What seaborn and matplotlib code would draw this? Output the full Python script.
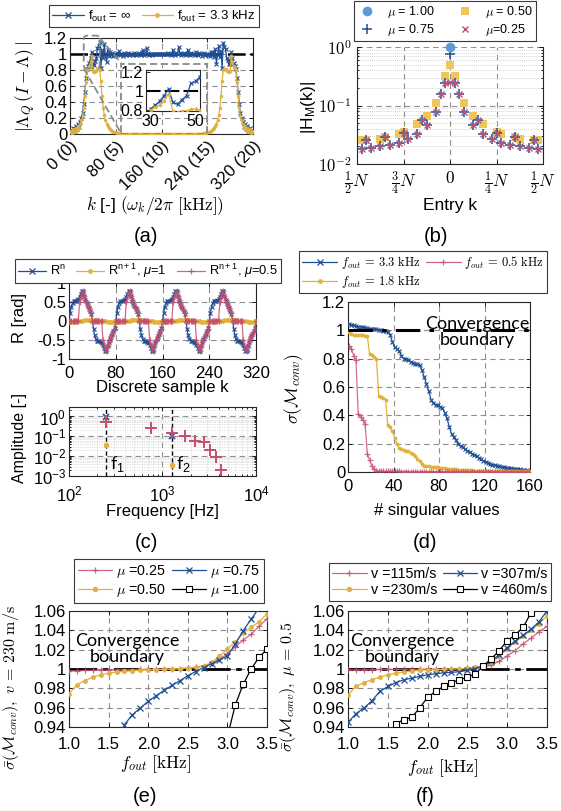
import numpy as np
import matplotlib
matplotlib.use("Agg")
import matplotlib.pyplot as plt
import seaborn as sns
from matplotlib.lines import Line2D
from matplotlib.patches import FancyBboxPatch, Rectangle
from matplotlib.ticker import LogLocator, NullFormatter

# ---------------------------------------------------------------- data
# (a) |Lambda_Q (I - Lambda)| for every second frequency bin k
k_a = np.arange(0, 321, 2)
lam_inf = [
    0.02, 0.05, 0.02, 0.08, 0.04, 0.10, 0.06, 0.12, 0.09, 0.15,
    0.20, 0.26, 0.38, 0.52, 0.70, 0.81, 0.85, 0.89, 0.95, 1.02,
    0.88, 0.86, 0.91, 0.95, 1.08, 1.10, 1.15, 0.82, 1.05, 0.95,
    1.12, 0.98, 0.90, 1.05, 0.97, 1.02, 0.99, 1.01, 0.98, 1.00,
    0.99, 1.01, 1.00, 1.04, 0.99, 1.00, 0.98, 1.01, 1.00, 0.99,
    1.00, 1.01, 0.99, 1.00, 1.00, 0.99, 1.01, 1.00, 0.99, 1.00,
    1.01, 1.00, 0.99, 1.02, 1.05, 0.99, 1.00, 1.07, 1.01, 0.99,
    1.00, 1.00, 0.99, 1.00, 1.00, 1.00, 1.00, 1.00, 1.00, 1.00,
    1.00, 1.00, 1.00, 1.00, 1.00, 1.00, 1.01, 1.00, 0.99, 1.00,
    1.05, 1.00, 0.99, 1.01, 1.00, 1.09, 1.01, 0.99, 1.00, 1.00,
    1.01, 0.99, 1.00, 1.05, 1.00, 0.99, 1.01, 1.00, 1.00, 0.99,
    1.03, 1.00, 0.99, 1.01, 1.00, 0.98, 1.00, 1.01, 0.99, 1.00,
    1.00, 0.99, 0.98, 1.02, 0.99, 1.03, 0.96, 1.06, 0.88, 0.99,
    1.10, 0.96, 1.04, 0.83, 1.14, 1.09, 1.06, 0.95, 0.92, 0.87,
    0.88, 1.02, 0.95, 0.89, 0.85, 0.81, 0.70, 0.52, 0.38, 0.26,
    0.20, 0.15, 0.09, 0.12, 0.06, 0.10, 0.04, 0.08, 0.02, 0.05,
    0.02,
]
lam_33 = [
    0.02, 0.04, 0.01, 0.06, 0.03, 0.08, 0.05, 0.10, 0.07, 0.12,
    0.17, 0.22, 0.33, 0.47, 0.65, 0.80, 0.83, 0.85, 0.90, 0.97,
    0.79, 0.78, 0.79, 0.79, 0.81, 0.81, 0.80, 0.66, 0.47, 0.33,
    0.24, 0.17, 0.13, 0.10, 0.08, 0.06, 0.05, 0.04, 0.03, 0.025,
    0.02, 0.015, 0.012, 0.01, 0.008, 0.006, 0.005, 0.004, 0.003, 0.002,
    0.002, 0.001, 0.001, 0.0, 0.0, 0.0, 0.0, 0.0, 0.0, 0.0,
    0.0, 0.0, 0.0, 0.0, 0.0, 0.0, 0.0, 0.0, 0.0, 0.0,
    0.0, 0.0, 0.0, 0.0, 0.0, 0.0, 0.0, 0.0, 0.0, 0.0,
    0.0, 0.0, 0.0, 0.0, 0.0, 0.0, 0.0, 0.0, 0.0, 0.0,
    0.0, 0.0, 0.0, 0.0, 0.0, 0.0, 0.0, 0.0, 0.0, 0.0,
    0.0, 0.0, 0.0, 0.0, 0.0, 0.0, 0.0, 0.0, 0.001, 0.001,
    0.002, 0.002, 0.003, 0.004, 0.005, 0.006, 0.008, 0.01, 0.012, 0.015,
    0.02, 0.025, 0.03, 0.04, 0.05, 0.06, 0.08, 0.10, 0.13, 0.17,
    0.24, 0.33, 0.47, 0.66, 0.80, 0.81, 0.81, 0.79, 0.79, 0.78,
    0.79, 0.97, 0.90, 0.85, 0.83, 0.80, 0.65, 0.47, 0.33, 0.22,
    0.17, 0.12, 0.07, 0.10, 0.05, 0.08, 0.03, 0.06, 0.01, 0.04,
    0.02,
]
a_tick_k = [0, 80, 160, 240, 320]
a_tick_labels = ["0 (0)", "80 (5)", "160 (10)", "240 (15)", "320 (20)"]

# (b) filter coefficients |H_M(k)|
b_k_mu100 = [0]
b_h_mu100 = [1.0]
b_k_mu075 = [-19, -18, -17, -15, -14, -13, -11, -10, -9, -7, -6, -5, -3, -2, -1, 0,
             1, 2, 3, 5, 6, 7, 9, 10, 11, 13, 14, 15, 17, 18, 19]
b_h_mu075 = [0.018, 0.026, 0.0185, 0.020, 0.029, 0.021, 0.023, 0.034, 0.027, 0.033,
             0.056, 0.046, 0.078, 0.16, 0.24, 0.75,
             0.24, 0.16, 0.078, 0.046, 0.056, 0.033, 0.027, 0.034, 0.023, 0.021,
             0.029, 0.020, 0.0185, 0.026, 0.018]
b_k_mu025 = b_k_mu075
b_h_mu025 = [0.018, 0.026, 0.0185, 0.020, 0.029, 0.021, 0.023, 0.034, 0.027, 0.033,
             0.056, 0.046, 0.078, 0.16, 0.24, 0.25,
             0.24, 0.16, 0.078, 0.046, 0.056, 0.033, 0.027, 0.034, 0.023, 0.021,
             0.029, 0.020, 0.0185, 0.026, 0.018]
b_k_mu050 = [-19, -18, -15, -14, -11, -10, -7, -5, -3, -1, 0,
             1, 3, 5, 7, 10, 11, 14, 15, 18, 19]
b_h_mu050 = [0.026, 0.026, 0.027, 0.029, 0.033, 0.035, 0.048, 0.066, 0.11, 0.32, 0.50,
             0.32, 0.11, 0.066, 0.048, 0.035, 0.033, 0.029, 0.027, 0.026, 0.026]
b_tick_k = [-20, -10, 0, 10, 20]
b_tick_labels = [r"$\frac{1}{2}N$", r"$\frac{3}{4}N$", r"$0$", r"$\frac{1}{4}N$", r"$\frac{1}{2}N$"]

# (c) residual signal over four periods (every second sample)
k_c = np.arange(0, 321, 2)
r_n = [
    0.00, 0.20, 0.38, 0.48, 0.52, 0.52, 0.53, 0.55, 0.58, 0.64, 0.72, 0.79, 0.78, 0.65, 0.55, 0.47, 0.40, 0.33, 0.27, 0.18,
    0.00, -0.20, -0.38, -0.48, -0.52, -0.52, -0.53, -0.55, -0.58, -0.64, -0.72, -0.79, -0.78, -0.65, -0.55, -0.47, -0.40, -0.33, -0.27, -0.18,
    0.00, 0.20, 0.38, 0.48, 0.52, 0.52, 0.53, 0.55, 0.58, 0.64, 0.72, 0.79, 0.78, 0.65, 0.55, 0.47, 0.40, 0.33, 0.27, 0.18,
    0.00, -0.20, -0.38, -0.48, -0.52, -0.52, -0.53, -0.55, -0.58, -0.64, -0.72, -0.79, -0.78, -0.65, -0.55, -0.47, -0.40, -0.33, -0.27, -0.18,
    0.00, 0.20, 0.38, 0.48, 0.52, 0.52, 0.53, 0.55, 0.58, 0.64, 0.72, 0.79, 0.78, 0.65, 0.55, 0.47, 0.40, 0.33, 0.27, 0.18,
    0.00, -0.20, -0.38, -0.48, -0.52, -0.52, -0.53, -0.55, -0.58, -0.64, -0.72, -0.79, -0.78, -0.65, -0.55, -0.47, -0.40, -0.33, -0.27, -0.18,
    0.00, 0.20, 0.38, 0.48, 0.52, 0.52, 0.53, 0.55, 0.58, 0.64, 0.72, 0.79, 0.78, 0.65, 0.55, 0.47, 0.40, 0.33, 0.27, 0.18,
    0.00, -0.20, -0.38, -0.48, -0.52, -0.52, -0.53, -0.55, -0.58, -0.64, -0.72, -0.79, -0.78, -0.65, -0.55, -0.47, -0.40, -0.33, -0.27, -0.18,
    0.00,
]
r_n1_mu1 = [
    -0.030, -0.028, -0.025, -0.021, -0.017, -0.013, -0.009, -0.005, -0.002, 0.002, 0.005, 0.009, 0.013, 0.017, 0.021, 0.025, 0.028, 0.030, 0.031, 0.031,
    0.030, 0.028, 0.025, 0.021, 0.017, 0.013, 0.009, 0.005, 0.002, -0.002, -0.005, -0.009, -0.013, -0.017, -0.021, -0.025, -0.028, -0.030, -0.031, -0.031,
    -0.030, -0.028, -0.025, -0.021, -0.017, -0.013, -0.009, -0.005, -0.002, 0.002, 0.005, 0.009, 0.013, 0.017, 0.021, 0.025, 0.028, 0.030, 0.031, 0.031,
    0.030, 0.028, 0.025, 0.021, 0.017, 0.013, 0.009, 0.005, 0.002, -0.002, -0.005, -0.009, -0.013, -0.017, -0.021, -0.025, -0.028, -0.030, -0.031, -0.031,
    -0.030, -0.028, -0.025, -0.021, -0.017, -0.013, -0.009, -0.005, -0.002, 0.002, 0.005, 0.009, 0.013, 0.017, 0.021, 0.025, 0.028, 0.030, 0.031, 0.031,
    0.030, 0.028, 0.025, 0.021, 0.017, 0.013, 0.009, 0.005, 0.002, -0.002, -0.005, -0.009, -0.013, -0.017, -0.021, -0.025, -0.028, -0.030, -0.031, -0.031,
    -0.030, -0.028, -0.025, -0.021, -0.017, -0.013, -0.009, -0.005, -0.002, 0.002, 0.005, 0.009, 0.013, 0.017, 0.021, 0.025, 0.028, 0.030, 0.031, 0.031,
    0.030, 0.028, 0.025, 0.021, 0.017, 0.013, 0.009, 0.005, 0.002, -0.002, -0.005, -0.009, -0.013, -0.017, -0.021, -0.025, -0.028, -0.030, -0.031, -0.031,
    -0.030,
]
r_n1_mu05 = [
    0, 0, 0, 0, 0, 0, 0, 0, 0, 0.50, 0.64, 0.74, 0.78, 0.65, 0.55, 0.47, 0.40, 0.33, 0.27, 0.20,
    0, 0, 0, 0, 0, 0, 0, 0, 0, -0.50, -0.64, -0.74, -0.78, -0.65, -0.55, -0.47, -0.40, -0.33, -0.27, -0.20,
    0, 0, 0, 0, 0, 0, 0, 0, 0, 0.50, 0.64, 0.74, 0.78, 0.65, 0.55, 0.47, 0.40, 0.33, 0.27, 0.20,
    0, 0, 0, 0, 0, 0, 0, 0, 0, -0.50, -0.64, -0.74, -0.78, -0.65, -0.55, -0.47, -0.40, -0.33, -0.27, -0.20,
    0, 0, 0, 0, 0, 0, 0, 0, 0, 0.50, 0.64, 0.74, 0.78, 0.65, 0.55, 0.47, 0.40, 0.33, 0.27, 0.20,
    0, 0, 0, 0, 0, 0, 0, 0, 0, -0.50, -0.64, -0.74, -0.78, -0.65, -0.55, -0.47, -0.40, -0.33, -0.27, -0.20,
    0, 0, 0, 0, 0, 0, 0, 0, 0, 0.50, 0.64, 0.74, 0.78, 0.65, 0.55, 0.47, 0.40, 0.33, 0.27, 0.20,
    0, 0, 0, 0, 0, 0, 0, 0, 0, -0.50, -0.64, -0.74, -0.78, -0.65, -0.55, -0.47, -0.40, -0.33, -0.27, -0.20,
    0,
]
spec_f_rn = [250, 1250]
spec_a_rn = [0.92, 0.10]
spec_f_mu1 = [250, 1250]
spec_a_mu1 = [0.035, 0.0036]
spec_f_mu05 = [250, 750, 1250, 1750, 2250, 2750, 3250, 3750, 4250]
spec_a_mu05 = [0.50, 0.26, 0.14, 0.105, 0.055, 0.049, 0.021, 0.0087, 0.0021]
f1_hz, f2_hz = 250, 1250

# (d) singular values of the convergence matrix (every second index)
n_sv = np.arange(1, 161, 2)
sv_33 = [
    1.045, 1.040, 1.035, 1.031, 1.027, 1.024, 1.021, 1.018, 1.015, 1.012,
    1.010, 1.008, 1.006, 1.004, 1.001, 0.998, 0.995, 0.990, 0.970, 0.920,
    0.880, 0.870, 0.855, 0.820, 0.800, 0.795, 0.790, 0.780, 0.770, 0.765,
    0.760, 0.755, 0.720, 0.670, 0.620, 0.570, 0.510, 0.490, 0.475, 0.470,
    0.460, 0.450, 0.420, 0.380, 0.320, 0.270, 0.245, 0.225, 0.200, 0.185,
    0.175, 0.160, 0.150, 0.140, 0.130, 0.120, 0.110, 0.100, 0.090, 0.080,
    0.072, 0.065, 0.058, 0.052, 0.047, 0.043, 0.039, 0.036, 0.033, 0.030,
    0.028, 0.026, 0.024, 0.022, 0.020, 0.018, 0.016, 0.014, 0.012, 0.010,
]
sv_18 = [
    0.990, 0.975, 0.970, 0.968, 0.967, 0.966, 0.965, 0.963, 0.960, 0.830,
    0.825, 0.815, 0.800, 0.535, 0.530, 0.520, 0.510, 0.330, 0.315, 0.290,
    0.240, 0.200, 0.170, 0.160, 0.155, 0.150, 0.145, 0.135, 0.125, 0.110,
    0.095, 0.075, 0.055, 0.045, 0.042, 0.040, 0.038, 0.036, 0.034, 0.032,
    0.030, 0.028, 0.026, 0.024, 0.022, 0.020, 0.019, 0.018, 0.017, 0.016,
    0.015, 0.014, 0.013, 0.012, 0.011, 0.010, 0.0098, 0.0095, 0.0092, 0.0090,
    0.0087, 0.0084, 0.0080, 0.0078, 0.0075, 0.0072, 0.0070, 0.0067, 0.0064, 0.0060,
    0.0058, 0.0055, 0.0052, 0.0050, 0.0048, 0.0046, 0.0044, 0.0042, 0.0040, 0.0040,
]
sv_05 = [
    0.890, 0.870, 0.820, 0.790, 0.410, 0.390, 0.370, 0.340, 0.130, 0.085,
    0.040, 0.020, 0.010, 0.006, 0.005, 0.005, 0.004, 0.004, 0.004, 0.004,
    0.004, 0.004, 0.004, 0.0035, 0.0035, 0.0035, 0.003, 0.003, 0.003, 0.003,
    0.003, 0.003, 0.0028, 0.0028, 0.0027, 0.0027, 0.0026, 0.0026, 0.0025, 0.0025,
    0.0024, 0.0024, 0.0023, 0.0023, 0.0022, 0.0022, 0.0021, 0.0021, 0.0020, 0.0020,
    0.0019, 0.0019, 0.0018, 0.0018, 0.0017, 0.0017, 0.0016, 0.0016, 0.0015, 0.0015,
    0.0014, 0.0014, 0.0013, 0.0013, 0.0012, 0.0012, 0.0011, 0.0011, 0.0010, 0.0010,
    0.0010, 0.0009, 0.0009, 0.0008, 0.0008, 0.0007, 0.0007, 0.0006, 0.0006, 0.0005,
]

# (e) mean singular value vs output frequency, v = 230 m/s
f_out = [1.0, 1.1, 1.2, 1.3, 1.4, 1.5, 1.6, 1.7, 1.8, 1.9, 2.0, 2.1, 2.2,
         2.3, 2.4, 2.5, 2.6, 2.7, 2.8, 2.9, 3.0, 3.1, 3.2, 3.3, 3.4, 3.5]
e_mu025 = [0.998, 0.9982, 0.9985, 0.9987, 0.9989, 0.999, 0.9992, 0.9993, 0.9994, 0.9995,
           0.9996, 0.9997, 0.9998, 1.0, 1.0005, 1.001, 1.0018, 1.003, 1.006, 1.010,
           1.016, 1.023, 1.030, 1.036, 1.044, 1.052]
e_mu050 = [0.9744, 0.9837, 0.988, 0.9914, 0.994, 0.9957, 0.9968, 0.9976, 0.9982, 0.9987,
           0.9991, 0.9994, 0.9997, 0.9999, 1.0002, 1.0008, 1.0018, 1.003, 1.007, 1.013,
           1.021, 1.028, 1.037, 1.043, 1.049, 1.057]
f_e_mu075 = [1.7, 1.8, 1.9, 2.0, 2.1, 2.2, 2.3, 2.4, 2.5, 2.6, 2.7, 2.8, 2.9, 3.0, 3.1, 3.2, 3.3, 3.4]
e_mu075 = [0.9424, 0.9527, 0.9596, 0.9665, 0.9723, 0.9778, 0.983, 0.9878, 0.993, 0.9974,
           1.0015, 1.0053, 1.0094, 1.0136, 1.026, 1.0397, 1.0517, 1.063]
f_e_mu100 = [3.0, 3.1, 3.2, 3.3, 3.4, 3.5]
e_mu100 = [0.930, 0.963, 0.9843, 1.0, 1.0122, 1.0204]

# (f) mean singular value vs output frequency, mu = 0.5
f_v115 = [0.9991, 0.9992, 0.9993, 0.9994, 0.9995, 0.9996, 0.9997, 0.9997, 0.9998, 0.9998,
          0.9999, 0.9999, 1.0, 1.0, 1.0001, 1.0003, 1.0008, 1.002, 1.004, 1.008,
          1.0135, 1.019, 1.026, 1.032, 1.0385, 1.044]
f_v230 = [0.9733, 0.982, 0.986, 0.9888, 0.9916, 0.994, 0.9955, 0.997, 0.998, 0.9986,
          0.999, 0.9993, 0.9996, 0.9998, 1.0, 1.0008, 1.0018, 1.003, 1.007, 1.013,
          1.021, 1.028, 1.034, 1.040, 1.047, 1.055]
f_v307 = [0.9448, 0.9537, 0.9596, 0.9671, 0.9768, 0.9819, 0.986, 0.9888, 0.9905, 0.9923,
          0.994, 0.995, 0.996, 0.9965, 0.9972, 0.9985, 1.0005, 1.003, 1.008, 1.015,
          1.022, 1.029, 1.035, 1.041, 1.049, 1.060]
f_f_v460 = [1.6, 1.7, 1.8, 1.9, 2.0, 2.1, 2.2, 2.3, 2.4, 2.5, 2.6, 2.7, 2.8, 2.9, 3.0, 3.1, 3.2, 3.3]
f_v460 = [0.9434, 0.9476, 0.950, 0.9596, 0.9709, 0.9768, 0.9819, 0.986, 0.9888, 0.9916,
          0.995, 1.0033, 1.0105, 1.0191, 1.0294, 1.0352, 1.0432, 1.0583]

# ---------------------------------------------------------------- style
sns.set_theme(style="white")
plt.rcParams.update({
    "font.family": ["Liberation Sans", "DejaVu Sans"],
    "mathtext.fontset": "custom",
    "mathtext.rm": "Liberation Sans",
    "mathtext.it": "Liberation Sans:italic",
    "mathtext.bf": "Liberation Sans:bold",
    "mathtext.sf": "Liberation Sans",
    "axes.unicode_minus": False,
    "text.color": "black",
    "axes.labelcolor": "black",
    "xtick.color": "black",
    "ytick.color": "black",
    "xtick.bottom": True,
    "ytick.left": True,
})

BLUE = "#1f4e94"
GOLD = "#e2b13c"
RED = "#c64e6c"
LBLUE = "#5d9bd8"
SQY = "#f0c65a"
GRIDC = "#8f8f8f"
ZOOMC = "#8a8a8a"

W, H = 561.0, 811.0
fig = plt.figure(figsize=(W / 100, H / 100), dpi=100)
renderer = fig.canvas.get_renderer()


def add_ax(l, t, r, b):
    return fig.add_axes([l / W, 1 - b / H, (r - l) / W, (b - t) / H])


def frame(ax, grid=True, fs=12):
    for s in ax.spines.values():
        s.set_visible(True)
        s.set_color("#262626")
        s.set_linewidth(0.8)
    ax.set_facecolor("white")
    ax.tick_params(which="both", direction="in", top=True, right=True,
                   length=3, width=0.6, pad=2, labelsize=fs)
    ax.tick_params(axis="x", which="both", pad=5)
    ax.tick_params(which="minor", length=1.5)
    if grid:
        ax.grid(True, which="major", color=GRIDC, lw=0.8, ls=(0, (5, 3.5)))
    ax.set_axisbelow(True)


def place_labels(ax, ylab_x, ylab_y, xlab_x, xlab_y):
    ax.yaxis.set_label_coords(ylab_x, ylab_y)
    ax.xaxis.set_label_coords(xlab_x, xlab_y)


def draw(ax, x, y, color, marker=None, ms=4.0, lw=0.9, ls="-", mew=0.9,
         mfc=None, mec=None, alpha=1.0, z=3, clip=True):
    kw = dict(color=color, linewidth=lw, linestyle=ls, alpha=alpha, zorder=z)
    if marker is not None:
        kw.update(marker=marker, markersize=ms, markeredgewidth=mew,
                  markeredgecolor=color if mec is None else mec,
                  markerfacecolor=color if mfc is None else mfc)
    sns.lineplot(x=np.asarray(x, float), y=np.asarray(y, float), ax=ax,
                 estimator=None, sort=False, legend=False, **kw)
    if not clip:
        ax.lines[-1].set_clip_on(False)


def handle(color, marker=None, ms=4.0, lw=0.9, ls="-", mew=0.9, mfc=None, mec=None, alpha=1.0):
    return Line2D([], [], color=color, lw=lw, ls=ls, marker=marker, ms=ms, mew=mew,
                  mec=color if mec is None else mec,
                  mfc=color if mfc is None else mfc, alpha=alpha)


def box_legend(handles, labels, cx, cy, width, ncol=1, fs=11, cm=False, **kw):
    """Framed figure legend centred at (cx, cy) px, shrunk until it fits `width` px."""
    size = fs
    while True:
        opts = dict(loc="center", bbox_to_anchor=(cx / W, 1 - cy / H), ncol=ncol,
                    fontsize=size, frameon=True, fancybox=False, framealpha=1,
                    edgecolor="#3a3a3a", borderpad=0.25, handlelength=2.2,
                    handletextpad=0.3, columnspacing=0.5, labelspacing=0.15,
                    borderaxespad=0)
        opts.update(kw)
        leg = fig.legend(handles, labels, **opts)
        leg.get_frame().set_linewidth(0.8)
        if cm:
            for t in leg.get_texts():
                t.set_math_fontfamily("cm")
        if leg.get_window_extent(renderer).width <= width or size <= 7:
            return leg
        leg.remove()
        size -= 0.25


def g_fmt(vals):
    return ["%g" % v for v in vals]


# ---------------------------------------------------------------- (a)
ax_a = add_ax(70, 38, 253, 134)
frame(ax_a)
ax_a.tick_params(axis="x", pad=3)
ax_a.axhline(1.0, color="black", lw=1.8, ls=(0, (7, 2)), zorder=2)
draw(ax_a, k_a, lam_inf, BLUE, "x", ms=3.2, lw=0.9, mew=0.8)
draw(ax_a, k_a, lam_33, GOLD, ".", ms=4.0, lw=0.9, mew=0.5)
ax_a.set_xlim(0, 320)
ax_a.set_ylim(0, 1.2)
ax_a.set_xticks(a_tick_k)
ax_a.set_xticklabels(a_tick_labels, rotation=45, ha="right", rotation_mode="anchor")
yt = [0, 0.2, 0.4, 0.6, 0.8, 1.0, 1.2]
ax_a.set_yticks(yt)
ax_a.set_yticklabels(g_fmt(yt))
ax_a.set_xlabel(r"$k$ [-] $(\omega_k/2\pi\ [\mathrm{kHz}])$", math_fontfamily="cm", fontsize=12.5)
ax_a.set_ylabel(r"$|\Lambda_Q\,(I-\Lambda)\,|$", math_fontfamily="cm", fontsize=12.5)
place_labels(ax_a, -0.175, 0.49, 0.464, -0.62)

# zoom window and its frame inside the axes
ax_a.add_patch(Rectangle((90, 0.0), 149, 0.88, fill=False, ec=ZOOMC, lw=1.3,
                         ls=(0, (4, 2)), zorder=4))
ax_a.add_patch(FancyBboxPatch((24, 0.82), 28, 0.41,
                              boxstyle="round,pad=0,rounding_size=6",
                              mutation_aspect=0.008, fill=False, ec=ZOOMC, lw=1.3,
                              ls=(0, (4, 2)), zorder=4, clip_on=False))
ax_a.plot([52, 90], [1.2, 0.88], color=ZOOMC, lw=1.3, ls=(0, (4, 2)), clip_on=False, zorder=4)
ax_a.plot([24, 90], [0.82, 0.0], color=ZOOMC, lw=1.3, ls=(0, (4, 2)), clip_on=False, zorder=4)

ax_in = add_ax(146, 70, 200, 111)
frame(ax_in, grid=False, fs=11.5)
ax_in.tick_params(axis="x", pad=2)
ax_in.set_zorder(5)
ax_in.axhline(1.0, color="black", lw=1.5, ls=(0, (7, 2)), zorder=2)
draw(ax_in, k_a, lam_inf, BLUE, "x", ms=3.2, lw=0.9, mew=0.8)
draw(ax_in, k_a, lam_33, GOLD, ".", ms=4.0, lw=0.9, mew=0.5)
ax_in.set_xlim(28, 52)
ax_in.set_ylim(0.79, 1.22)
ax_in.set_xticks([30, 50])
ax_in.set_xticklabels(["30", "50"])
ax_in.set_yticks([0.8, 1.0, 1.2])
ax_in.set_yticklabels(["0.8", "1", "1.2"])
ax_in.tick_params(top=False, right=False)

box_legend([handle(BLUE, "x", ms=4, mew=0.9), handle(GOLD, ".", ms=5)],
           [r"f$_{\mathrm{out}}$ = $\infty$", r"f$_{\mathrm{out}}$ = 3.3 kHz"],
           154, 16, 213, ncol=2, fs=11, handlelength=2.4, columnspacing=0.8)

# ---------------------------------------------------------------- (b)
ax_b = add_ax(357, 47, 543, 164)
frame(ax_b)
ax_b.set_yscale("log")
ax_b.set_xlim(-20, 20)
ax_b.set_ylim(1e-2, 1.0)
ax_b.spines["top"].set_visible(False)
ax_b.yaxis.set_minor_locator(LogLocator(base=10, subs=np.arange(2, 10)))
ax_b.yaxis.set_minor_formatter(NullFormatter())
ax_b.grid(True, which="minor", axis="y", color="#c4c4c4", lw=0.6, ls=(0, (1, 1.5)))
ax_b.grid(True, which="major", color=GRIDC, lw=0.8, ls=(0, (5, 3.5)))
ax_b.set_xticks(b_tick_k)
ax_b.set_xticklabels(b_tick_labels, math_fontfamily="cm", fontsize=12.5)
ax_b.set_yticks([1e-2, 1e-1, 1.0])
ax_b.set_yticklabels([r"$10^{-2}$", r"$10^{-1}$", r"$10^{0}$"], math_fontfamily="cm", fontsize=12)
ax_b.tick_params(top=False)
ax_b.tick_params(axis="x", pad=4)
ax_b.tick_params(axis="y", pad=4)
draw(ax_b, b_k_mu050, b_h_mu050, SQY, "s", ms=6, ls="", mew=0)
draw(ax_b, b_k_mu075, b_h_mu075, BLUE, "+", ms=7, ls="", mew=1.1)
draw(ax_b, b_k_mu025, b_h_mu025, RED, "x", ms=5, ls="", mew=1.0)
draw(ax_b, b_k_mu100, b_h_mu100, LBLUE, "o", ms=7, ls="", mew=0, clip=False, z=5)
ax_b.set_xlabel("Entry k", fontsize=12.5)
ax_b.set_ylabel(r"|H$_{\mathrm{M}}$(k)|", fontsize=12.5)
place_labels(ax_b, -0.21, 0.48, 0.5, -0.29)

box_legend([handle(LBLUE, "o", ms=7, ls="", mew=0), handle(BLUE, "+", ms=7, ls="", mew=1.1),
            handle(SQY, "s", ms=6, ls="", mew=0), handle(RED, "x", ms=5, ls="", mew=1.0)],
           [r"$\mu$ = 1.00", r"$\mu$ = 0.75", r"$\mu$ = 0.50", r"$\mu$=0.25"],
           445, 21, 186, ncol=2, fs=11.5, cm=True, handlelength=1.6, columnspacing=1.6,
           handletextpad=0.8)

# ---------------------------------------------------------------- (c)
ax_c1 = add_ax(69, 283, 256, 359)
frame(ax_c1)
draw(ax_c1, k_c, r_n, BLUE, "x", ms=3.2, lw=0.9, mew=0.8)
draw(ax_c1, k_c, r_n1_mu1, GOLD, ".", ms=5, lw=0.9, mew=0.5)
draw(ax_c1, k_c, r_n1_mu05, RED, "+", ms=5, lw=0.9, mew=0.9, alpha=0.85)
ax_c1.set_xlim(0, 320)
ax_c1.set_ylim(-1, 1)
ax_c1.set_xticks([0, 80, 160, 240, 320])
yt = [-1, -0.5, 0, 0.5, 1]
ax_c1.set_yticks(yt)
ax_c1.set_yticklabels(g_fmt(yt))
ax_c1.set_xlabel("Discrete sample k", fontsize=12)
ax_c1.set_ylabel("R [rad]", fontsize=12)
place_labels(ax_c1, -0.225, 0.54, 0.5, -0.27)

ax_c2 = add_ax(69, 407, 256, 476)
frame(ax_c2)
ax_c2.set_xscale("log")
ax_c2.set_yscale("log")
ax_c2.set_xlim(1e2, 1e4)
ax_c2.set_ylim(1e-3, 3)
ax_c2.xaxis.set_minor_locator(LogLocator(base=10, subs=np.arange(2, 10)))
ax_c2.yaxis.set_minor_locator(LogLocator(base=10, subs=np.arange(2, 10)))
ax_c2.xaxis.set_minor_formatter(NullFormatter())
ax_c2.yaxis.set_minor_formatter(NullFormatter())
ax_c2.grid(True, which="minor", color="#c8c8c8", lw=0.5, ls=(0, (1, 1.5)))
ax_c2.grid(True, which="major", color=GRIDC, lw=0.8, ls=(0, (5, 3.5)))
ax_c2.set_yticks([1e-3, 1e-2, 1e-1, 1e0])
ax_c2.tick_params(axis="x", pad=6)
ax_c2.axvline(f1_hz, color="black", lw=1.0, ls=(0, (3, 2)), zorder=2)
ax_c2.axvline(f2_hz, color="black", lw=1.0, ls=(0, (3, 2)), zorder=2)
draw(ax_c2, spec_f_rn, spec_a_rn, BLUE, "x", ms=5, ls="", mew=1.2)
draw(ax_c2, spec_f_mu1, spec_a_mu1, GOLD, "o", ms=4, ls="", mew=0)
draw(ax_c2, spec_f_mu05, spec_a_mu05, RED, "+", ms=8, ls="", mew=1.4)
ax_c2.text(275, 0.004, r"f$_1$", fontsize=13, family="Lato", va="center", ha="left")
ax_c2.text(1390, 0.004, r"f$_2$", fontsize=13, family="Lato", va="center", ha="left")
ax_c2.set_xlabel("Frequency [Hz]", fontsize=12)
ax_c2.set_ylabel("Amplitude [-]", fontsize=11.5)
place_labels(ax_c2, -0.225, 0.55, 0.5, -0.40)

box_legend([handle(BLUE, "x", ms=4, mew=0.9), handle(GOLD, ".", ms=5),
            handle(RED, "+", ms=5, alpha=0.85)],
           [r"R$^{\mathrm{n}}$", r"R$^{\mathrm{n+1}}$, $\mu$=1", r"R$^{\mathrm{n+1}}$, $\mu$=0.5"],
           148, 271, 268, ncol=3, fs=11, handlelength=2.2, columnspacing=0.8)

# ---------------------------------------------------------------- (d)
ax_d = add_ax(348, 302, 530, 472)
frame(ax_d)
draw(ax_d, n_sv, sv_33, BLUE, "x", ms=3.2, lw=0.9, mew=0.8)
draw(ax_d, n_sv, sv_18, GOLD, ".", ms=4.5, lw=0.9, mew=0.5)
draw(ax_d, n_sv, sv_05, RED, "+", ms=4.5, lw=0.9, mew=0.9, alpha=0.8)
ax_d.axhline(1.0, color="black", lw=2.2, ls=(0, (8, 3, 1.5, 3)), zorder=4)
ax_d.set_xlim(0, 160)
ax_d.set_ylim(0, 1.2)
ax_d.set_xticks([0, 40, 80, 120, 160])
yt = [0, 0.2, 0.4, 0.6, 0.8, 1.0, 1.2]
ax_d.set_yticks(yt)
ax_d.set_yticklabels(g_fmt(yt))
ax_d.text(114, 0.99, "Convergence\nboundary", family="Lato", fontsize=13,
          ha="center", va="center", linespacing=1.0, zorder=6)
ax_d.set_xlabel("# singular values", fontsize=12)
ax_d.set_ylabel(r"$\sigma(\mathcal{M}_{conv})$", math_fontfamily="cm", fontsize=12.5)
place_labels(ax_d, -0.235, 0.49, 0.49, -0.18)

box_legend([handle(BLUE, "x", ms=4, mew=0.9), handle(GOLD, ".", ms=5),
            handle(RED, "+", ms=5, alpha=0.85)],
           [r"$f_{out}\,=\,3.3\ \mathrm{kHz}$", r"$f_{out}\,=\,1.8\ \mathrm{kHz}$",
            r"$f_{out}\,=\,0.5\ \mathrm{kHz}$"],
           423, 272, 253, ncol=2, fs=11, cm=True, handlelength=2.8, columnspacing=0.4)


# ---------------------------------------------------------------- (e), (f)
def sweep_axes(ax):
    frame(ax)
    ax.tick_params(axis="x", pad=7)
    ax.axhline(1.0, color="black", lw=2.0, ls=(0, (10, 2, 2, 2)), zorder=2)
    ax.set_xlim(1.0, 3.5)
    ax.set_ylim(0.94, 1.06)
    xt = [1.0, 1.5, 2.0, 2.5, 3.0, 3.5]
    ax.set_xticks(xt)
    ax.set_xticklabels(["%.1f" % v for v in xt])
    yt = [0.94, 0.96, 0.98, 1.0, 1.02, 1.04, 1.06]
    ax.set_yticks(yt)
    ax.set_yticklabels(g_fmt(yt))
    ax.set_xlabel(r"$f_{out}\ [\mathrm{kHz}]$", math_fontfamily="cm", fontsize=12.5)


ax_e = add_ax(69, 611, 267, 727)
sweep_axes(ax_e)
draw(ax_e, f_out, e_mu025, RED, "+", ms=5, mew=0.9, alpha=0.85)
draw(ax_e, f_out, e_mu050, GOLD, ".", ms=6, mew=0.5)
draw(ax_e, f_e_mu075, e_mu075, BLUE, "x", ms=4, mew=0.9)
draw(ax_e, f_e_mu100, e_mu100, "black", "s", ms=4.5, mew=0.8, mfc="white", mec="black")
ax_e.text(1.74, 1.021, "Convergence\nboundary", family="Lato", fontsize=13,
          ha="center", va="center", linespacing=1.0, zorder=6)
ax_e.set_ylabel(r"$\bar{\sigma}(\mathcal{M}_{conv}),\ v\,=\,230\ \mathrm{m/s}$",
                math_fontfamily="cm", fontsize=11.5)
place_labels(ax_e, -0.24, 0.34, 0.44, -0.23)

box_legend([handle(RED, "+", ms=5, alpha=0.85), handle(GOLD, ".", ms=6),
            handle(BLUE, "x", ms=4), handle("black", "s", ms=4.5, mew=0.8, mfc="white")],
           [r"$\mu$ =0.25", r"$\mu$ =0.50", r"$\mu$ =0.75", r"$\mu$ =1.00"],
           169, 581, 190, ncol=2, fs=12.5, cm=True, handlelength=2.4, columnspacing=0.4)

ax_f = add_ax(348, 611, 547, 727)
sweep_axes(ax_f)
draw(ax_f, f_out, f_v115, RED, "+", ms=5, mew=0.9, alpha=0.85)
draw(ax_f, f_out, f_v230, GOLD, ".", ms=6, mew=0.5)
draw(ax_f, f_out, f_v307, BLUE, "x", ms=4, mew=0.9)
draw(ax_f, f_f_v460, f_v460, "black", "s", ms=4.5, mew=0.8, mfc="white", mec="black")
ax_f.text(1.68, 1.021, "Convergence\nboundary", family="Lato", fontsize=13,
          ha="center", va="center", linespacing=1.0, zorder=6)
ax_f.set_ylabel(r"$\bar{\sigma}(\mathcal{M}_{conv}),\ \mu\,=\,0.5$",
                math_fontfamily="cm", fontsize=11.5)
place_labels(ax_f, -0.25, 0.345, 0.477, -0.26)

box_legend([handle(RED, "+", ms=5, alpha=0.85), handle(GOLD, ".", ms=6),
            handle(BLUE, "x", ms=4), handle("black", "s", ms=4.5, mew=0.8, mfc="white")],
           ["v =115m/s", "v =230m/s", "v =307m/s", "v =460m/s"],
           440, 582, 223, ncol=2, fs=12.5, handlelength=2.4, columnspacing=0.4)

# ---------------------------------------------------------------- panel tags
for tag, x, y in [("(a)", 146, 237), ("(b)", 436, 237), ("(c)", 146, 543),
                  ("(d)", 425, 543), ("(e)", 145, 797), ("(f)", 425, 797)]:
    fig.text(x / W, 1 - y / H, tag, fontsize=14.5, ha="center", va="center")

fig.savefig("out.png", dpi=100, facecolor="white")
